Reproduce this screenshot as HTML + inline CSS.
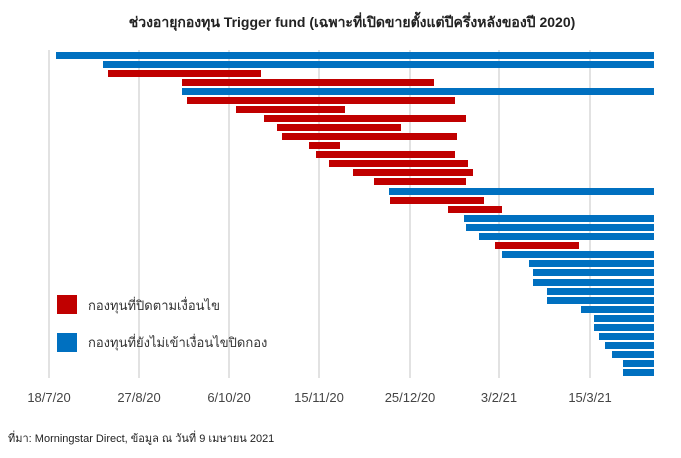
<!DOCTYPE html><html><head><meta charset="utf-8"><style>
body{margin:0;width:681px;height:453px;background:#fff;overflow:hidden;font-family:"Liberation Sans","Noto Sans CJK SC",sans-serif}
</style></head><body>
<svg width="681" height="453" xmlns="http://www.w3.org/2000/svg" font-family="Liberation Sans, Noto Sans CJK SC, sans-serif">
<text x="352" y="27" text-anchor="middle" font-size="14" font-weight="bold" fill="#222">ช่วงอายุกองทุน Trigger fund (เฉพาะที่เปิดขายตั้งแต่ปีครึ่งหลังของปี 2020)</text>
<g stroke="#d9d9d9" stroke-width="1.5">
<line x1="49" y1="50" x2="49" y2="378"/><line x1="139" y1="50" x2="139" y2="378"/><line x1="229" y1="50" x2="229" y2="378"/><line x1="319" y1="50" x2="319" y2="378"/><line x1="410" y1="50" x2="410" y2="378"/><line x1="499" y1="50" x2="499" y2="378"/><line x1="590" y1="50" x2="590" y2="378"/>
</g>
<g id="b"></g>
<g font-size="13" fill="#444" text-anchor="middle">
<text x="49" y="402">18/7/20</text><text x="139" y="402">27/8/20</text><text x="229" y="402">6/10/20</text><text x="319" y="402">15/11/20</text><text x="410" y="402">25/12/20</text><text x="499" y="402">3/2/21</text><text x="590" y="402">15/3/21</text>
</g>
<rect x="57" y="295" width="20" height="19" fill="#c00000"/>
<rect x="57" y="333" width="20" height="19" fill="#0070c0"/>
<text x="88" y="310" font-size="13" fill="#333">กองทุนที่ปิดตามเงื่อนไข</text>
<text x="88" y="347" font-size="13" fill="#333">กองทุนที่ยังไม่เข้าเงื่อนไขปิดกอง</text>
<text x="8" y="442" font-size="11" fill="#222">ที่มา: Morningstar Direct, ข้อมูล ณ วันที่ 9 เมษายน 2021</text>
</svg>
<script>
var d=[[52,56,654,0],[61,103,654,0],[70,108,261,1],[79,182,434,1],[88,182,654,0],[97,187,455,1],[106,236,345,1],[115,264,466,1],[124,277,401,1],[133,282,457,1],[142,309,340,1],[151,316,455,1],[160,329,468,1],[169,353,473,1],[178,374,466,1],[188,389,654,0],[197,390,484,1],[206,448,502,1],[215,464,654,0],[224,466,654,0],[233,479,654,0],[242,495,579,1],[251,502,654,0],[260,529,654,0],[269,533,654,0],[279,533,654,0],[288,547,654,0],[297,547,654,0],[306,581,654,0],[315,594,654,0],[324,594,654,0],[333,599,654,0],[342,605,654,0],[351,612,654,0],[360,623,654,0],[369,623,654,0]];
var g=document.getElementById('b'),s='';
d.forEach(function(r){s+='<rect x="'+r[1]+'" y="'+r[0]+'" width="'+(r[2]-r[1])+'" height="7" fill="'+(r[3]?'#c00000':'#0070c0')+'"/>';});
g.innerHTML=s;
</script>
</body></html>
